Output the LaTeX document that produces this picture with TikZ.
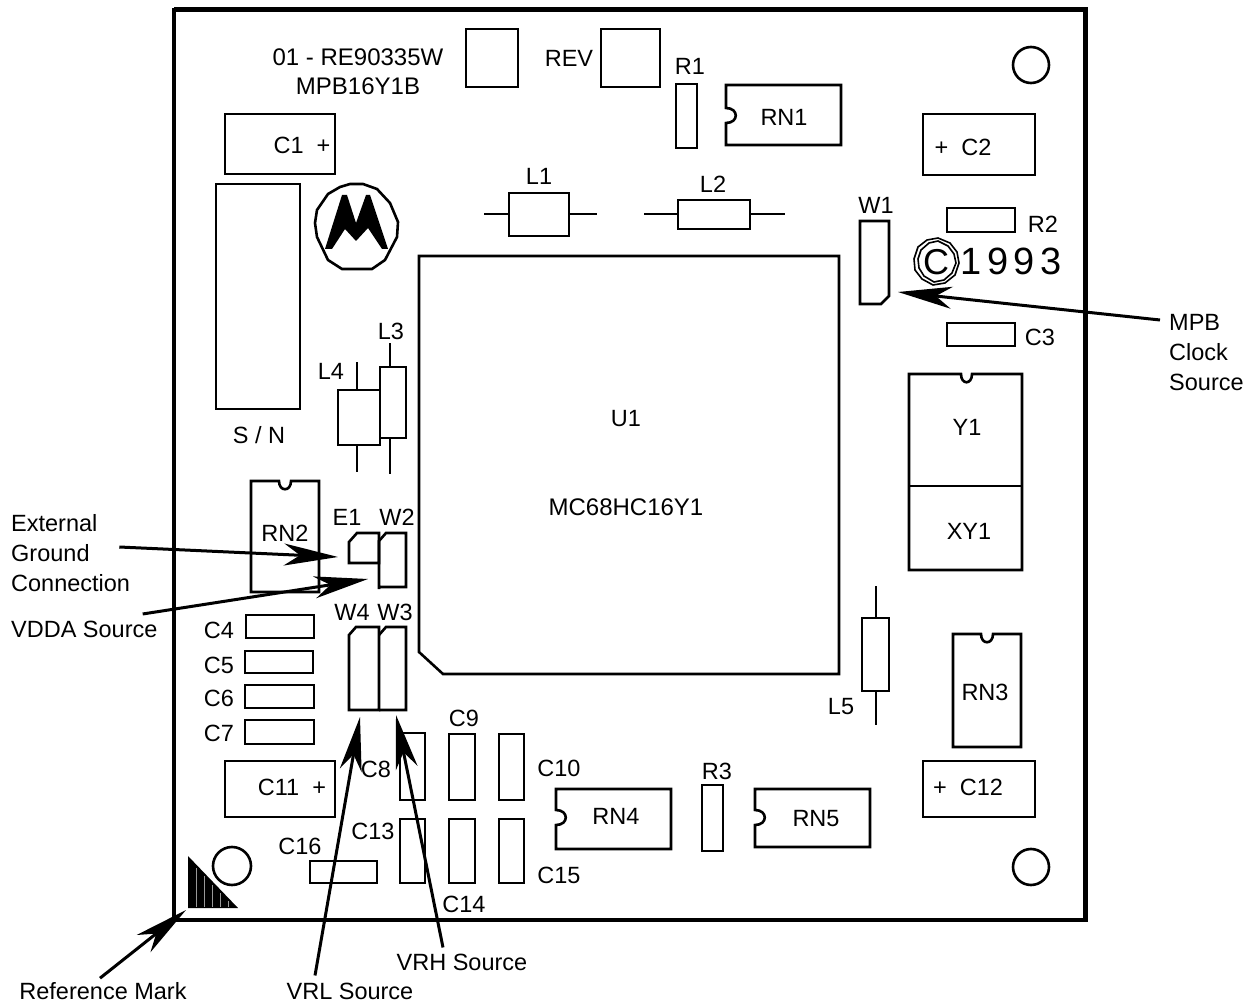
\documentclass[tikz,border=0pt]{standalone}
\usepackage{fontspec}
\setmainfont{Liberation Sans}
\usetikzlibrary{arrows.meta,calc}
\tikzset{
  x=1pt,y=-1pt,
  part/.style={draw=black,line width=2.6pt,line join=miter},
  lead/.style={draw=black,line width=2.4pt},
  lbl/.style={inner sep=0pt,font=\fontsize{23.5}{30}\selectfont},
  widelbl/.style={inner sep=0pt,font=\fontsize{24}{30}\selectfont},
  callout/.style={inner sep=0pt,align=left,font=\fontsize{23.5}{30}\selectfont},
  pointer/.style={draw=black,line width=3pt,-{Stealth[length=54pt,width=22pt,inset=16pt]}},
  fine/.style={draw=black,line width=1.6pt},
}
\begin{document}
\begin{tikzpicture}
\useasboundingbox (0,0) rectangle (1254,1003);
% board
\draw[draw=black,line width=3.4pt] (174,10) -- (1086,10) -- (1086,920) -- (174,920) -- cycle;
\draw[draw=black,line width=5pt] (174,9.5) -- (1085,9.5) -- (1085,920);
% top parts
\node[widelbl] (code1) at (358,57) {01 - RE90335W};
\node[widelbl] (code2) at (358,86) {MPB16Y1B};
\draw[part] (466,29) rectangle (518,87);
\node[lbl] (rev) at (569,58) {REV};
\draw[part] (601,29) rectangle (660,87);
\node[lbl] (r1) at (690,66) {R1};
\draw[part] (676,84) rectangle (697,148);
\draw[part] (726,85) -- (841,85) -- (841,145) -- (726,145) -- (726,123) .. controls (739,123) and (739,108) .. (726,108) -- cycle;
\node[lbl] (rn1) at (784,117) {RN1};
\draw[part] (923,114) rectangle (1035,175);
\node[lbl] (c2) at (963,147) {+ \ C2};
\draw[part] (1031,65) circle[radius=18];
\draw[part] (225,114) rectangle (335,174);
\node[lbl] (c1) at (302,145) {C1 \ +};
\draw[part] (216,184) rectangle (300,409);
\node[lbl] (sn) at (259,435) {S / N};
% logo
\draw[part] (315,223) -- (317,210) -- (328,194) -- (340,187) -- (350,184) -- (363,184) -- (377,189) -- (390,203) -- (398,222) -- (397,237) -- (385,260) -- (372,269) -- (342,269) -- (328,260) -- (317,237) -- cycle;
\fill[black] (325,249) -- (342,195) -- (347,195) -- (356,223) -- (366,195) -- (370,195) -- (388,249) -- (382,249) -- (368,228) -- (356,241) -- (345,229) -- (332,249) -- cycle;
% L1 L2
\draw[part] (509,193) rectangle (569,236);
\draw[lead] (484,214) -- (509,214) (569,214) -- (597,214);
\node[lbl] (l1) at (539,176) {L1};
\draw[part] (678,200) rectangle (750,229);
\draw[lead] (644,214) -- (678,214) (750,214) -- (785,214);
\node[lbl] (l2) at (713,184) {L2};
% W1 R2
\node[lbl] (w1) at (876,205) {W1};
\draw[part] (860,221) -- (889,221) -- (889,296) -- (881,304) -- (860,304) -- cycle;
\draw[part] (947,208) rectangle (1015,232);
\node[lbl] (r2) at (1043,224) {R2};
% copyright
\draw[fine] (914,259) -- (918,247) -- (927,240) -- (938,238) -- (950,243) -- (957,252) -- (959,263) -- (955,275) -- (945,283) -- (933,285) -- (922,279) -- (915,270) -- cycle;
\draw[fine] (918,259) -- (921,250) -- (929,243) -- (938,241) -- (948,246) -- (954,254) -- (956,263) -- (952,273) -- (944,280) -- (934,282) -- (924,276) -- (919,268) -- cycle;
\node[inner sep=0pt,font=\fontsize{36}{36}\selectfont] (copyc) at (936,262) {C};
\node[inner sep=0pt,font=\fontsize{38}{38}\selectfont\addfontfeature{LetterSpace=14}] (year) at (1011,261) {1993};
\draw[part] (947,323) rectangle (1015,346);
\node[lbl] (c3) at (1040,337) {C3};
% Y1
\draw[part] (909,374) -- (961,374) .. controls (961,385) and (972,385) .. (972,374) -- (1022,374) -- (1022,570) -- (909,570) -- cycle;
\draw[part] (909,486) -- (1022,486);
\node[lbl] (y1) at (967,427) {Y1};
\node[lbl] (xy1) at (969,531) {XY1};
% U1
\draw[part] (419,256) -- (839,256) -- (839,674) -- (443,674) -- (419,652) -- cycle;
\node[lbl] (u1) at (626,419) {U1};
\node[widelbl] (mc) at (626,507) {MC68HC16Y1};
% L3 L4
\draw[part] (380,367) rectangle (406,438);
\draw[lead] (390,343) -- (390,367) (390,438) -- (390,474);
\node[lbl] (l3) at (391,331) {L3};
\draw[part] (338,390) rectangle (380,445);
\draw[lead] (357,362) -- (357,390) (357,445) -- (357,472);
\node[lbl] (l4) at (331,371) {L4};
% RN2
\draw[part] (251,481) -- (279,481) .. controls (279,492) and (291,492) .. (291,481) -- (319,481) -- (319,592) -- (251,592) -- cycle;
\node[lbl] (rn2) at (285,533) {RN2};
% E1 W2
\node[lbl] (e1) at (347,517) {E1};
\node[lbl] (w2) at (397,517) {W2};
\draw[part] (349,542) -- (357,533) -- (379,533) -- (379,563) -- (349,563) -- cycle;
\draw[part] (379,589) -- (379,541) -- (386,533) -- (406,533) -- (406,587) -- (379,587);
% W4 W3
\node[lbl] (w4) at (352,612) {W4};
\node[lbl] (w3) at (395,612) {W3};
\draw[part] (349,635) -- (356,627) -- (379,627) -- (379,710) -- (349,710) -- cycle;
\draw[part] (379,635) -- (386,627) -- (406,627) -- (406,710) -- (379,710);
% C4-C7
\draw[part] (246,615) rectangle (314,638);
\draw[part] (245,651) rectangle (313,673);
\draw[part] (245,685) rectangle (314,708);
\draw[part] (245,720) rectangle (314,744);
\node[lbl] (c4) at (219,630) {C4};
\node[lbl] (c5) at (219,665) {C5};
\node[lbl] (c6) at (219,698) {C6};
\node[lbl] (c7) at (219,733) {C7};
% C11
\draw[part] (225,761) rectangle (335,817);
\node[lbl] (c11) at (292,787) {C11 \ +};
% caps
\draw[part] (400,733) rectangle (425,800);
\node[lbl] (c8) at (376,769) {C8};
\draw[part] (449,734) rectangle (475,800);
\node[lbl] (c9) at (464,718) {C9};
\draw[part] (499,734) rectangle (524,800);
\node[lbl] (c10) at (559,768) {C10};
\draw[part] (400,819) rectangle (425,883);
\node[lbl] (c13) at (373,831) {C13};
\draw[part] (449,819) rectangle (475,883);
\node[lbl] (c14) at (464,904) {C14};
\draw[part] (499,819) rectangle (524,883);
\node[lbl] (c15) at (559,875) {C15};
\draw[part] (310,861) rectangle (377,883);
\node[lbl] (c16) at (300,846) {C16};
% RN4 R3 RN5
\draw[part] (556,789) -- (671,789) -- (671,849) -- (556,849) -- (556,825) .. controls (569,825) and (569,810) .. (556,810) -- cycle;
\node[lbl] (rn4) at (616,816) {RN4};
\draw[part] (702,785) rectangle (723,851);
\node[lbl] (r3) at (717,771) {R3};
\draw[part] (755,789) -- (870,789) -- (870,847) -- (755,847) -- (755,825) .. controls (768,825) and (768,810) .. (755,810) -- cycle;
\node[lbl] (rn5) at (816,819) {RN5};
% C12
\draw[part] (923,761) rectangle (1035,817);
\node[lbl] (c12) at (968,787) {+ \ C12};
% circles
\draw[part] (1031,867) circle[radius=18];
\draw[part] (232,866) circle[radius=19];
% RN3
\draw[part] (953,634) -- (981,634) .. controls (981,645) and (993,645) .. (993,634) -- (1021,634) -- (1021,747) -- (953,747) -- cycle;
\node[lbl] (rn3) at (985,692) {RN3};
% L5
\draw[part] (862,618) rectangle (889,691);
\draw[lead] (876,586) -- (876,618) (876,691) -- (876,725);
\node[lbl] (l5) at (841,707) {L5};
% reference mark
\fill[black] (188,856) -- (188,908) -- (238,908) -- cycle;
\foreach \hx/\hy in {196/868,204/876,212/885,220/893,228/901}{\draw[white!60!black,line width=.5pt] (\hx,\hy) -- (\hx,907);}
% callouts
\node[callout,anchor=west] (mpb) at (1169,353) {MPB\\Clock\\Source};
\node[callout,anchor=west] (ext) at (11,553) {External\\Ground\\Connection};
\node[callout,anchor=west] (vdda) at (11,629) {VDDA Source};
\node[lbl] (vrl) at (350,991) {VRL Source};
\node[lbl] (vrh) at (462,962) {VRH Source};
\node[lbl] (refm) at (103,991) {Reference Mark};
\coordinate (tipmpb) at (898,292);
\coordinate (tipext) at (338,557);
\coordinate (tipvdda) at (368,579);
\coordinate (tipvrl) at (360,717);
\coordinate (tipvrh) at (396,715);
\coordinate (tipref) at (186,910);
\draw[pointer] ($(mpb.west)+(-9,-33)$) -- (tipmpb);
\draw[pointer] ($(ext.east)+(-11,-6)$) -- (tipext);
\draw[pointer] ($(vdda.east)+(-15,-15)$) -- (tipvdda);
\draw[pointer] ($(vrl.north)+(-35,-7)$) -- (tipvrl);
\draw[pointer] ($(vrh.north)+(-19,-6)$) -- (tipvrh);
\draw[pointer] ($(refm.north)+(-3,-4)$) -- (tipref);
\end{tikzpicture}
\end{document}
